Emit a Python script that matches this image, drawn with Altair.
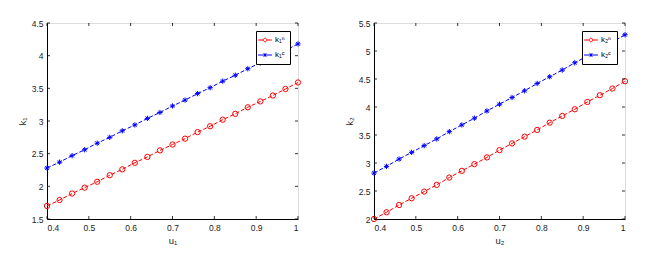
import altair as alt
import pandas as pd

u_values = [0.40, 0.43, 0.46, 0.49, 0.52, 0.55, 0.58, 0.61, 0.64, 0.67, 0.70,
            0.73, 0.76, 0.79, 0.82, 0.85, 0.88, 0.91, 0.94, 0.97, 1.00]

k1_n = [1.70, 1.79, 1.89, 1.98, 2.07, 2.17, 2.26, 2.36, 2.45, 2.55, 2.64,
        2.73, 2.83, 2.92, 3.02, 3.11, 3.21, 3.30, 3.39, 3.49, 3.59]
k1_c = [2.28, 2.37, 2.47, 2.56, 2.66, 2.75, 2.85, 2.94, 3.04, 3.13, 3.23,
        3.32, 3.42, 3.51, 3.61, 3.70, 3.80, 3.89, 3.99, 4.08, 4.18]
k2_n = [2.00, 2.12, 2.25, 2.37, 2.49, 2.61, 2.74, 2.86, 2.98, 3.10, 3.23,
        3.35, 3.47, 3.59, 3.72, 3.84, 3.96, 4.09, 4.21, 4.33, 4.46]
k2_c = [2.82, 2.94, 3.07, 3.19, 3.31, 3.43, 3.56, 3.68, 3.80, 3.93, 4.05,
        4.17, 4.29, 4.42, 4.54, 4.66, 4.79, 4.91, 5.03, 5.16, 5.29]

labels1 = ["k₁ⁿ", "k₁ᶜ"]
labels2 = ["k₂ⁿ", "k₂ᶜ"]
x_ticks = [0.4, 0.5, 0.6, 0.7, 0.8, 0.9, 1.0]
y1_ticks = [1.5, 2.0, 2.5, 3.0, 3.5, 4.0, 4.5]
y2_ticks = [2.0, 2.5, 3.0, 3.5, 4.0, 4.5, 5.0, 5.5]

W, H = 251, 196
TICK = 3
FONT = "Liberation Sans"
COLORS = ["#ff0000", "#0000ff"]
ASTER = "M -1 0 L 1 0 M 0 -1 L 0 1 M -0.7 -0.7 L 0.7 0.7 M -0.7 0.7 L 0.7 -0.7"
LEG_CIRC = "M-2.2,0L-0.55,0M0.55,0L2.2,0M0.55,0A0.55,0.55,0,1,1,-0.55,0A0.55,0.55,0,1,1,0.55,0"
LEG_AST = "M-2.2,0L2.2,0M0,-0.6L0,0.6M-0.45,-0.45L0.45,0.45M-0.45,0.45L0.45,-0.45"


def axis(title, values):
    return alt.Axis(values=values, format="~g", title=title, grid=False,
                    ticks=False, labelFontSize=8.5, titleFontSize=9.5,
                    labelFont=FONT, titleFont=FONT, titleFontWeight="normal",
                    domainColor="black", labelColor="#222", titleColor="#222",
                    labelPadding=4, titlePadding=4)


def panel(n_vals, c_vals, labels, xtitle, ytitle, yticks):
    df = pd.DataFrame({
        "u": u_values * 2,
        "k": n_vals + c_vals,
        "s": [labels[0]] * len(u_values) + [labels[1]] * len(u_values),
    })
    xs = alt.Scale(domain=[0.4, 1.0], nice=False)
    ys = alt.Scale(domain=[yticks[0], yticks[-1]], nice=False)
    x = alt.X("u:Q", scale=xs, axis=axis(xtitle, x_ticks))
    y = alt.Y("k:Q", scale=ys, axis=axis(ytitle, yticks))
    cscale = alt.Scale(domain=labels, range=COLORS)
    legend = alt.Legend(title=None, orient="top-right", offset=8,
                        strokeColor="black", fillColor="white",
                        padding=5, labelFontSize=8, labelFont=FONT,
                        symbolSize=40, rowPadding=7, labelOffset=6,
                        symbolOpacity=1, symbolFillColor="transparent",
                        symbolStrokeWidth=1)
    col = alt.Color("s:N", scale=cscale, legend=legend)
    base = alt.Chart(df)
    line = base.mark_line(strokeDash=[4, 2], strokeWidth=1).encode(x=x, y=y, color=col)
    p_n = base.transform_filter(alt.datum.s == labels[0]).mark_point(
        filled=False, strokeWidth=1, size=28, opacity=1, shape="circle").encode(
        x=x, y=y, color=col)
    p_c = base.transform_filter(alt.datum.s == labels[1]).mark_point(
        filled=False, strokeWidth=1, size=28, opacity=1, shape=ASTER).encode(
        x=x, y=y, color=col)
    leg = base.mark_point(filled=False, opacity=0).encode(
        x=x, y=y, color=col,
        shape=alt.Shape("s:N", scale=alt.Scale(domain=labels, range=[LEG_CIRC, LEG_AST]),
                        legend=legend),
    )
    xt = alt.Chart(pd.DataFrame({"u": x_ticks}))
    yt = alt.Chart(pd.DataFrame({"k": yticks}))
    tick_style = dict(color="black", strokeWidth=0.8)
    ticks = [
        xt.mark_rule(**tick_style).encode(x=x, y=alt.value(H - TICK), y2=alt.value(H)),
        xt.mark_rule(**tick_style).encode(x=x, y=alt.value(0), y2=alt.value(TICK)),
        yt.mark_rule(**tick_style).encode(y=y, x=alt.value(0), x2=alt.value(TICK)),
        yt.mark_rule(**tick_style).encode(y=y, x=alt.value(W - TICK), x2=alt.value(W)),
    ]
    return alt.layer(line, p_n, p_c, leg, *ticks).properties(width=W, height=H)


left = panel(k1_n, k1_c, labels1, "u₁", "k₁", y1_ticks)
right = panel(k2_n, k2_c, labels2, "u₂", "k₂", y2_ticks)

chart = alt.hconcat(left, right, spacing=38).resolve_scale(
    color="independent", shape="independent").properties(
    padding={"left": 8, "top": 10, "right": 5, "bottom": 5}
).configure_view(stroke="black", strokeWidth=1).configure(background="white")

chart.save("out.html", embed_options={"renderer": "svg", "actions": False})
